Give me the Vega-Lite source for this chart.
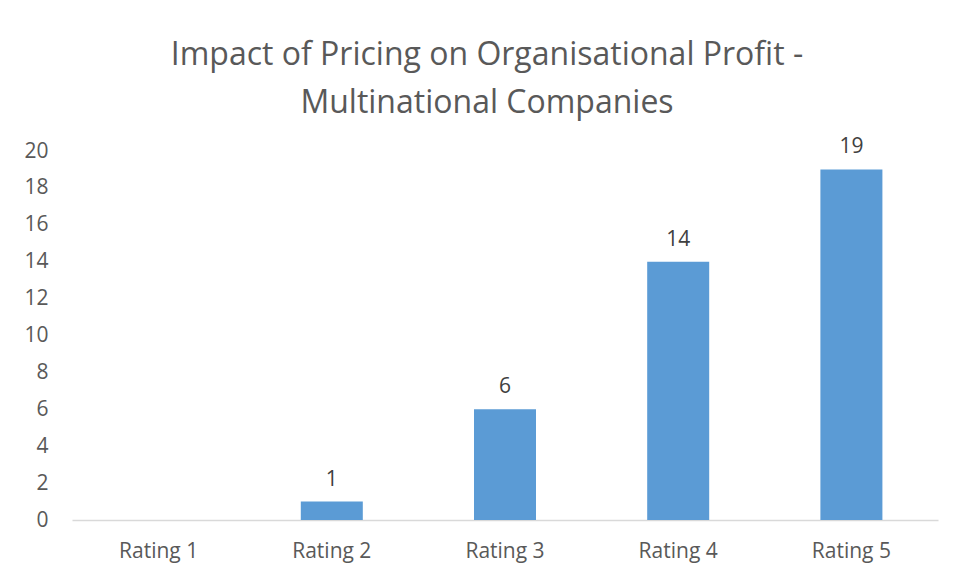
{
  "$schema": "https://vega.github.io/schema/vega-lite/v6.json",
  "width": 866,
  "height": 369,
  "autosize": {"type": "none"},
  "padding": {"left": 72, "top": 151, "right": 21, "bottom": 61},
  "background": "white",
  "title": {
    "text": ["Impact of Pricing on Organisational Profit -", "Multinational Companies"],
    "font": "Open Sans",
    "fontSize": 32,
    "fontWeight": "normal",
    "color": "#595959",
    "lineHeight": 48,
    "anchor": "middle",
    "dx": -18,
    "offset": 16
  },
  "config": {
    "view": {"stroke": null},
    "axis": {"labelFont": "Open Sans", "labelFontSize": 21, "labelColor": "#595959", "grid": false, "ticks": false, "title": null}
  },
  "data": {
    "values": [
      {"rating": "Rating 1", "count": 0},
      {"rating": "Rating 2", "count": 1},
      {"rating": "Rating 3", "count": 6},
      {"rating": "Rating 4", "count": 14},
      {"rating": "Rating 5", "count": 19}
    ]
  },
  "encoding": {
    "x": {
      "field": "rating", "type": "nominal", "sort": null,
      "scale": {"paddingInner": 0.642, "paddingOuter": 0.321},
      "axis": {"labelAngle": 0, "labelPadding": 20, "domainColor": "#D9D9D9", "domainWidth": 1.5}
    },
    "y": {
      "field": "count", "type": "quantitative",
      "scale": {"domain": [0, 20], "nice": false},
      "axis": {"values": [0, 2, 4, 6, 8, 10, 12, 14, 16, 18, 20], "domain": false, "labelPadding": 24}
    }
  },
  "layer": [
    {"mark": {"type": "bar", "color": "#5B9BD5"}},
    {
      "transform": [{"filter": "datum.count > 0"}],
      "mark": {"type": "text", "font": "Open Sans", "fontSize": 21, "color": "#404040", "baseline": "alphabetic", "dy": -16},
      "encoding": {"text": {"field": "count", "type": "quantitative"}}
    }
  ]
}
